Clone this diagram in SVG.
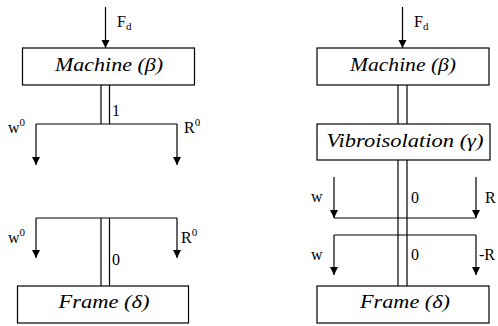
<svg xmlns="http://www.w3.org/2000/svg" width="498" height="326" viewBox="0 0 498 326">
<defs>
<marker id="ah" markerUnits="userSpaceOnUse" markerWidth="9" markerHeight="9" refX="8" refY="4" orient="auto">
<path d="M0,0 L8,4 L0,8 z" fill="#000"/>
</marker>
<style>
.box{fill:#fff;stroke:#000;stroke-width:1.2}
.ln{fill:none;stroke:#000;stroke-width:1.2}
.ar{fill:none;stroke:#000;stroke-width:1.2;marker-end:url(#ah)}
</style>
</defs>
<g id="connectors">
<line class="ar" x1="105.5" y1="7" x2="105.5" y2="48"/>
<line class="ln" x1="101" y1="85" x2="101" y2="124"/>
<line class="ln" x1="109.5" y1="85" x2="109.5" y2="124"/>
<line class="ln" x1="36" y1="124" x2="177" y2="124"/>
<line class="ar" x1="36" y1="124" x2="36" y2="165"/>
<line class="ar" x1="177" y1="124" x2="177" y2="165"/>
<line class="ln" x1="36" y1="218" x2="177" y2="218"/>
<line class="ar" x1="36" y1="218" x2="36" y2="258"/>
<line class="ar" x1="177" y1="218" x2="177" y2="258"/>
<line class="ln" x1="101" y1="218" x2="101" y2="286"/>
<line class="ln" x1="109.5" y1="218" x2="109.5" y2="286"/>
<line class="ar" x1="402.5" y1="7" x2="402.5" y2="48"/>
<line class="ln" x1="398" y1="85" x2="398" y2="124"/>
<line class="ln" x1="407" y1="85" x2="407" y2="124"/>
<line class="ln" x1="398" y1="160" x2="398" y2="286"/>
<line class="ln" x1="407" y1="160" x2="407" y2="286"/>
<line class="ln" x1="334" y1="218" x2="476" y2="218"/>
<line class="ar" x1="334" y1="177" x2="334" y2="218"/>
<line class="ar" x1="476" y1="177" x2="476" y2="218"/>
<line class="ln" x1="334" y1="235" x2="476" y2="235"/>
<line class="ar" x1="334" y1="235" x2="334" y2="275"/>
<line class="ar" x1="476" y1="235" x2="476" y2="275"/>
</g>
<g id="labels" font-family="Liberation Serif, DejaVu Serif, serif" font-size="16" fill="#000">
<text x="117" y="27">F<tspan font-size="11" dy="3">d</tspan></text>
<text x="414" y="27">F<tspan font-size="11" dy="3">d</tspan></text>
<text x="112" y="116">1</text>
<text x="8" y="133">w<tspan font-size="11" dy="-7">0</tspan></text>
<text x="184" y="133">R<tspan font-size="11" dy="-7">0</tspan></text>
<text x="8" y="243">w<tspan font-size="11" dy="-7">0</tspan></text>
<text x="181" y="243">R<tspan font-size="11" dy="-7">0</tspan></text>
<text x="112" y="265">0</text>
<text x="311" y="202">w</text>
<text x="411" y="203">0</text>
<text x="485" y="203">R</text>
<text x="311" y="260">w</text>
<text x="411" y="260">0</text>
<text x="479" y="260">-R</text>
</g>
<g id="machine-left" font-family="Liberation Serif, DejaVu Serif, serif" font-style="italic" font-size="19" text-anchor="middle">
<rect class="box" x="22.5" y="48" width="172" height="37"/>
<text x="109" y="71" textLength="108" lengthAdjust="spacingAndGlyphs">Machine (β)</text>
</g>
<g id="frame-left" font-family="Liberation Serif, DejaVu Serif, serif" font-style="italic" font-size="19" text-anchor="middle">
<rect class="box" x="17.5" y="286" width="171" height="37"/>
<text x="104" y="308" textLength="91" lengthAdjust="spacingAndGlyphs">Frame (δ)</text>
</g>
<g id="machine-right" font-family="Liberation Serif, DejaVu Serif, serif" font-style="italic" font-size="19" text-anchor="middle">
<rect class="box" x="317" y="48" width="172" height="37"/>
<text x="403" y="71" textLength="106" lengthAdjust="spacingAndGlyphs">Machine (β)</text>
</g>
<g id="vibroisolation" font-family="Liberation Serif, DejaVu Serif, serif" font-style="italic" font-size="19" text-anchor="middle">
<rect class="box" x="317" y="124" width="173" height="36"/>
<text x="405" y="147" textLength="157" lengthAdjust="spacingAndGlyphs">Vibroisolation (γ)</text>
</g>
<g id="frame-right" font-family="Liberation Serif, DejaVu Serif, serif" font-style="italic" font-size="19" text-anchor="middle">
<rect class="box" x="317" y="286" width="172" height="37"/>
<text x="405" y="308" textLength="90" lengthAdjust="spacingAndGlyphs">Frame (δ)</text>
</g>
</svg>
